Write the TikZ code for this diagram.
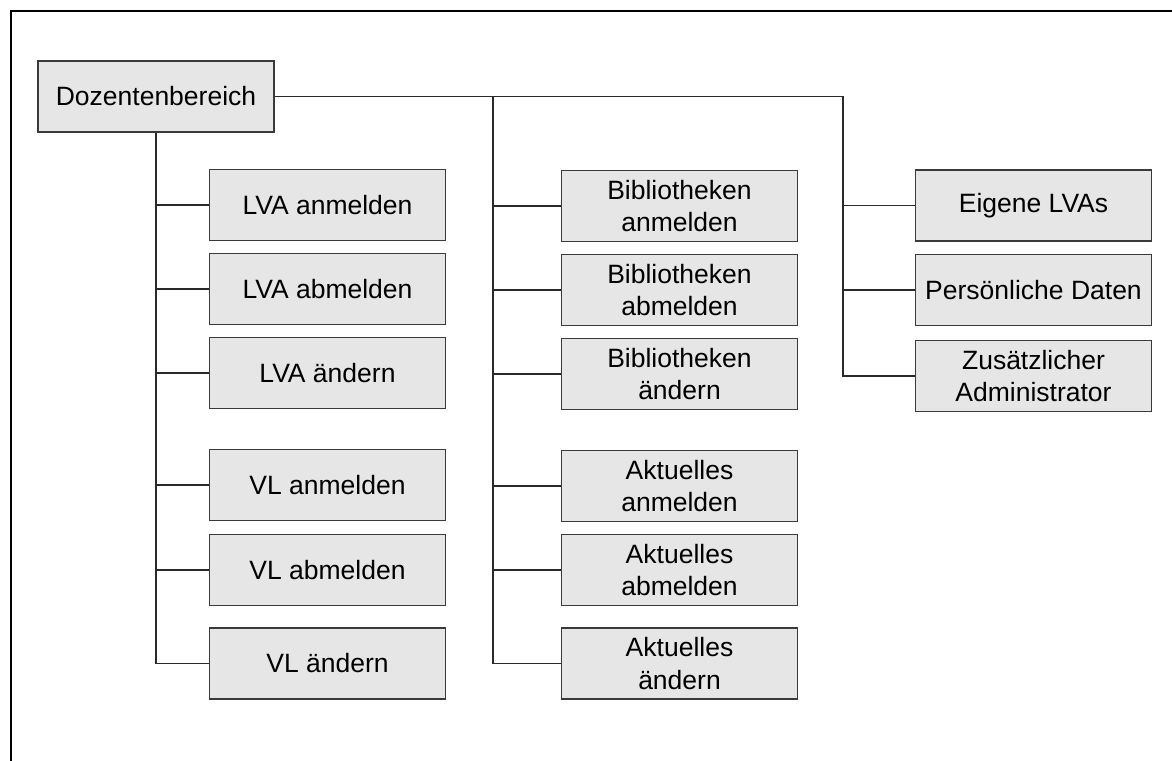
\documentclass[tikz,border=0pt]{standalone}
\usepackage{fontspec}
\setmainfont{Liberation Sans}
\definecolor{boxfill}{HTML}{E6E6E6}
\definecolor{boxline}{HTML}{3A3A3A}
\definecolor{conline}{HTML}{2A2A2A}
\begin{document}
\begin{tikzpicture}[x=1pt,y=-1pt,
  box/.style={draw=boxline,line width=1.3pt,fill=boxfill,minimum width=236pt,minimum height=71pt,
    align=center,inner sep=0pt,font=\fontsize{26.5}{32.5}\selectfont},
  con/.style={draw=conline,line width=1.2pt}]
\useasboundingbox (0,0) rectangle (1172,760);
\draw[line width=2.2pt] (11,765) -- (11,11) -- (1177,11);
% root
\node[box] (doz) at (156,96.5) {Dozentenbereich};
% left column
\node[box] (l1) at (327.5,205) {LVA anmelden};
\node[box] (l2) at (327.5,289) {LVA abmelden};
\node[box] (l3) at (327.5,373) {LVA ändern};
\node[box] (l4) at (327.5,485) {VL anmelden};
\node[box] (l5) at (327.5,570) {VL abmelden};
\node[box] (l6) at (327.5,663.5) {VL ändern};
% middle column
\node[box] (m1) at (679.5,206) {Bibliotheken\\anmelden};
\node[box] (m2) at (679.5,290) {Bibliotheken\\abmelden};
\node[box] (m3) at (679.5,374) {Bibliotheken\\ändern};
\node[box] (m4) at (679.5,486) {Aktuelles\\anmelden};
\node[box] (m5) at (679.5,570) {Aktuelles\\abmelden};
\node[box] (m6) at (679.5,663.5) {Aktuelles\\ändern};
% right column
\node[box] (r1) at (1033.5,205.5) {Eigene LVAs};
\node[box] (r2) at (1033.5,290) {Persönliche Daten};
\node[box] (r3) at (1033.5,376) {Zusätzlicher\\Administrator};
% junctions
\coordinate (jm) at (493,96.5);
\coordinate (jr) at (843,96.5);
% connectors
\draw[con] (doz.south) |- (l6.west);
\foreach \n in {l1,l2,l3,l4,l5} \draw[con] (doz.south |- \n.west) -- (\n.west);
\draw[con] (doz.east) -- (jr) |- (r3.west);
\draw[con] (jm) |- (m6.west);
\foreach \n in {m1,m2,m3,m4,m5} \draw[con] (jm |- \n.west) -- (\n.west);
\foreach \n in {r1,r2} \draw[con] (jr |- \n.west) -- (\n.west);
\end{tikzpicture}
\end{document}
